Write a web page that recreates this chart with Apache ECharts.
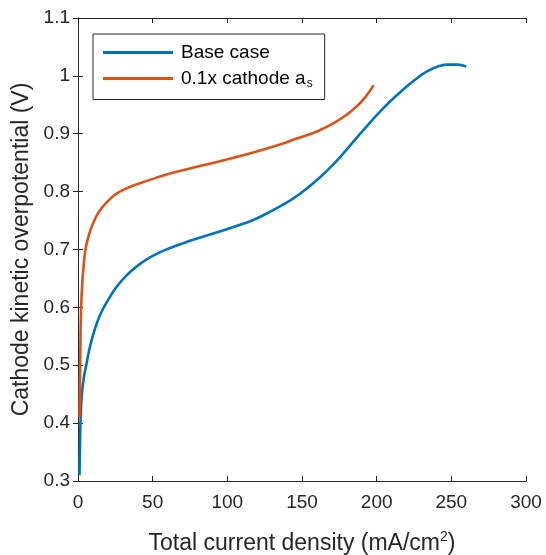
<!DOCTYPE html>
<html>
<head>
<meta charset="utf-8">
<script src="https://cdn.jsdelivr.net/npm/echarts@6/dist/echarts.min.js"></script>
<style>
  html, body { margin: 0; padding: 0; background: #fff; }
  #chart { width: 546px; height: 555px; }
</style>
</head>
<body>
<div id="chart"></div>
<script>
const baseX = [1.0, 1.3, 1.8, 2.6, 4.0, 5.5, 8, 11, 15, 20, 26, 34, 42, 50, 60, 75, 97, 110, 120, 137, 148, 160, 171, 182, 193, 204, 215, 225, 234, 242, 248, 254, 260];
const baseY = [0.31, 0.36, 0.41, 0.45, 0.48, 0.50, 0.532, 0.56, 0.588, 0.612, 0.636, 0.659, 0.676, 0.689, 0.701, 0.715, 0.733, 0.744, 0.754, 0.777, 0.795, 0.820, 0.847, 0.879, 0.912, 0.943, 0.970, 0.992, 1.008, 1.017, 1.0195, 1.0195, 1.016];
const lowAsX = [1.0, 1.3, 1.6, 2.0, 2.7, 3.7, 5, 7, 10, 14, 19.4, 25, 31, 41, 55, 64, 86, 108, 131, 148, 160, 171, 180, 186, 192, 198];
const lowAsY = [0.41, 0.47, 0.53, 0.59, 0.635, 0.67, 0.70, 0.722, 0.745, 0.765, 0.782, 0.795, 0.804, 0.814, 0.826, 0.833, 0.847, 0.861, 0.878, 0.893, 0.904, 0.918, 0.933, 0.946, 0.962, 0.984];
const xTicks = [0, 50, 100, 150, 200, 250, 300];
const yTicks = [0.3, 0.4, 0.5, 0.6, 0.7, 0.8, 0.9, 1.0, 1.1];

const font = 'Liberation Sans, Arial, sans-serif';
const ink = '#262626';

const myChart = echarts.init(document.getElementById('chart'));

const boxAxis = {
    axisLine: { show: true, lineStyle: { color: ink, width: 1 } },
    axisTick: { show: true, inside: true, length: 5, lineStyle: { color: ink } },
    splitLine: { show: false }
};

myChart.setOption({
    animation: false,
    backgroundColor: '#fff',
    grid: { left: 78, right: 20, top: 18, bottom: 74, outerBoundsMode: 'none', containLabel: false },
    legend: {
        orient: 'vertical',
        left: 93,
        top: 34,
        padding: [9, 12, 10, 10],
        itemGap: 7,
        itemWidth: 70,
        itemHeight: 3,
        icon: 'rect',
        borderColor: ink,
        borderWidth: 1,
        backgroundColor: '#fff',
        textStyle: {
            fontFamily: font, fontSize: 19, color: '#000', padding: [0, 0, 0, 3],
            rich: { sub: { fontFamily: font, fontSize: 12, color: '#000', verticalAlign: 'bottom', padding: [10, 0, 0, 1] } }
        },
        formatter: function (name) {
            return name === 'lowAs' ? '0.1x cathode a{sub|s}' : 'Base case';
        },
        data: ['Base case', 'lowAs']
    },
    xAxis: [
        Object.assign({}, boxAxis, {
            type: 'value', min: xTicks[0], max: xTicks[xTicks.length - 1], interval: xTicks[1] - xTicks[0],
            name: 'Total current density (mA/cm{sup|2})',
            nameLocation: 'middle', nameGap: 49,
            nameTextStyle: {
                fontFamily: font, fontSize: 23, color: ink,
                rich: { sup: { fontFamily: font, fontSize: 14, color: ink, verticalAlign: 'top', padding: [0, 0, 13, 0] } }
            },
            axisLabel: { fontFamily: font, fontSize: 19, color: ink, margin: 12 }
        }),
        Object.assign({}, boxAxis, {
            type: 'value', min: xTicks[0], max: xTicks[xTicks.length - 1], interval: xTicks[1] - xTicks[0], position: 'top',
            axisLabel: { show: false }
        })
    ],
    yAxis: [
        Object.assign({}, boxAxis, {
            type: 'value', min: yTicks[0], max: yTicks[yTicks.length - 1], interval: 0.1,
            name: 'Cathode kinetic overpotential (V)',
            nameLocation: 'middle', nameGap: 39,
            nameTextStyle: { fontFamily: font, fontSize: 23, color: ink },
            axisLabel: {
                fontFamily: font, fontSize: 19, color: ink, margin: 8,
                formatter: v => String(+v.toFixed(1))
            }
        }),
        Object.assign({}, boxAxis, {
            type: 'value', min: yTicks[0], max: yTicks[yTicks.length - 1], interval: 0.1, position: 'right',
            axisLabel: { show: false }
        })
    ],
    series: [
        {
            name: 'Base case', type: 'line', showSymbol: false, smooth: 0.5,
            itemStyle: { color: '#0072BD' },
            lineStyle: { color: '#0072BD', width: 2.6 },
            data: baseX.map((x, i) => [x, baseY[i]])
        },
        {
            name: 'lowAs', type: 'line', showSymbol: false, smooth: 0.5,
            itemStyle: { color: '#D95319' },
            lineStyle: { color: '#D95319', width: 2.6 },
            data: lowAsX.map((x, i) => [x, lowAsY[i]])
        }
    ]
});
</script>
</body>
</html>
